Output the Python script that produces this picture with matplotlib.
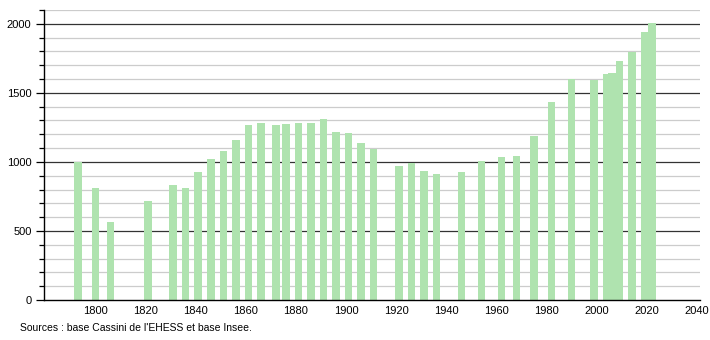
import matplotlib.pyplot as plt
import numpy as np

plt.rcParams["font.family"] = ["Liberation Sans", "DejaVu Sans"]

years = [1793, 1800, 1806, 1821, 1831, 1836, 1841, 1846, 1851, 1856,
         1861, 1866, 1872, 1876, 1881, 1886, 1891, 1896, 1901, 1906,
         1911, 1921, 1926, 1931, 1936, 1946, 1954, 1962, 1968, 1975,
         1982, 1990, 1999, 2004, 2006, 2009, 2014, 2019, 2022]
population = [998, 814, 565, 717, 833, 809, 930, 1019, 1077, 1159,
              1268, 1280, 1268, 1275, 1280, 1280, 1309, 1217, 1208, 1135,
              1092, 971, 990, 935, 913, 930, 1007, 1036, 1043, 1184,
              1437, 1601, 1594, 1638, 1647, 1733, 1795, 1944, 2005]
xticks = list(range(1800, 2041, 20))
source = "Sources : base Cassini de l'EHESS et base Insee."

fig = plt.figure(figsize=(7.1, 3.4), dpi=100)
ax = fig.add_axes([44 / 710, 40 / 340, 656 / 710, 290 / 340])

# grid: light every 100, dark every 500
for v in range(100, 2101, 100):
    if v % 500 == 0:
        ax.axhline(v, color="#333333", lw=0.9, zorder=1)
    else:
        ax.axhline(v, color="#cccccc", lw=0.9, zorder=1)

ax.bar(years, population, width=3.0, color="#afe3af", zorder=2)

ax.set_xlim(1779.45, 2041.2)
ax.set_ylim(0, 2100)

ax.set_xticks(xticks)
ax.set_yticks(range(0, 2001, 500))
ax.set_yticks(range(0, 2101, 100), minor=True)
ax.tick_params(axis="x", length=0, labelsize=8, pad=4)
ax.tick_params(axis="y", which="major", length=6, width=0.9, labelsize=8, pad=3)
ax.tick_params(axis="y", which="minor", length=3.5, width=0.9)

for s in ["top", "right"]:
    ax.spines[s].set_visible(False)
ax.spines["left"].set_linewidth(1.0)
ax.spines["bottom"].set_linewidth(1.0)
ax.spines["left"].set_zorder(3)
ax.spines["bottom"].set_zorder(3)

fig.text(20 / 710, 1 - 328 / 340, source, fontsize=7.5, va="center", ha="left")

fig.savefig("out.png", dpi=100)
